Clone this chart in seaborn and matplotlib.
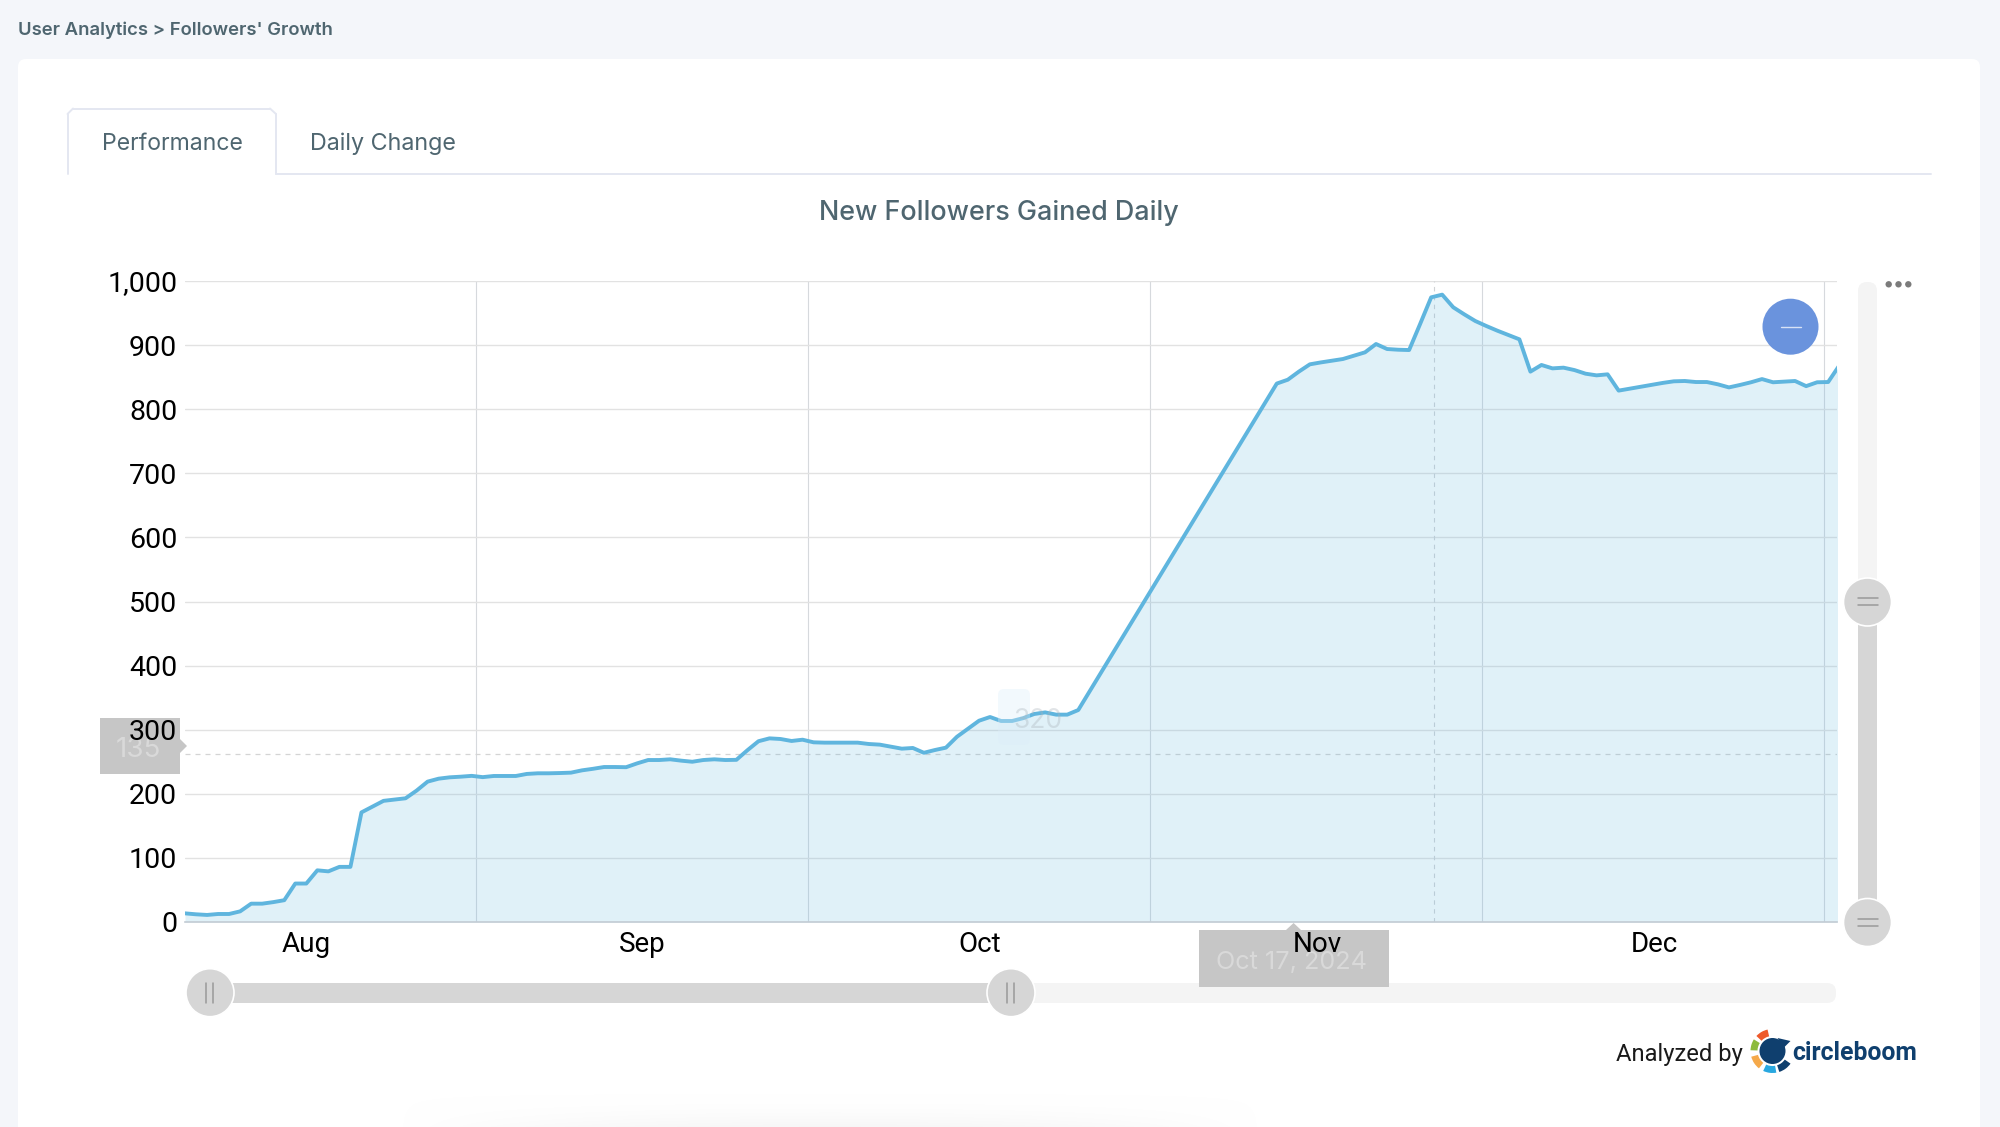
import numpy as np
import pandas as pd
import matplotlib.pyplot as plt
import seaborn as sns
from matplotlib.patches import Circle, FancyBboxPatch, Polygon, Rectangle, Wedge

# Values, one point per day (no points for days 82-98)
days_early = list(range(0, 82))
followers_early = [13.5, 12, 11, 12.5, 12.5, 16.6, 28.6, 28.6, 31, 34,
                   60, 60, 80.6, 79, 86, 86, 171, 180, 189, 191,
                   193, 205, 219, 223.6, 225.7, 226.7, 228, 226, 227.8, 227.8,
                   227.8, 231, 232, 232, 232.4, 233, 236.6, 239, 241.8, 241.8,
                   241.5, 247.5, 252.7, 252.7, 253.8, 251.7, 250, 252.7, 253.8, 252.7,
                   253, 268, 282, 286.5, 285.5, 282.4, 284.4, 280.3, 279.8, 279.8,
                   279.8, 279.8, 277.7, 276.7, 273.5, 270.4, 271.5, 264, 268.3, 272,
                   289, 301.6, 314, 319.8, 313.6, 313.6, 318, 324.5, 327, 323.5,
                   323.5, 330.7]
days_late = list(range(99, 151))
followers_late = [840, 846, 858.6, 870, 873, 875.7, 878.3, 883.5, 888.7, 901.7,
                  893.9, 892.8, 892.3, 933, 974.5, 978.7, 959, 948, 937.6, 929.8,
                  922.5, 915.7, 909, 858.6, 869, 863.7, 864.8, 861, 855.4, 852.8,
                  854.4, 829, 832, 835, 838, 841, 843.5, 844, 842.4, 842.4,
                  838.8, 834, 837.8, 842, 847, 842, 843, 844, 836, 842,
                  842.4, 868]

month_labels = ['Aug', 'Sep', 'Oct', 'Nov', 'Dec']
month_label_days = [11.0, 41.5, 72.1, 102.7, 133.2]
month_start_days = [26.35, 56.45, 87.5, 117.6, 148.65]
y_ticks = [0, 100, 200, 300, 400, 500, 600, 700, 800, 900, 1000]
cursor_value = 261.6
cursor_day = 113.3

df = pd.DataFrame({'day': days_early + days_late,
                   'followers': followers_early + followers_late})

sns.set_theme(style='white')
plt.rcParams['font.family'] = ['Inter', 'DejaVu Sans']

page_color = '#f4f6fa'
text_color = '#4f6670'
line_color = '#5fb5de'
tab_line = '#e4e7f1'
handle_color = '#d6d6d6'
tick_font = ['Roboto', 'DejaVu Sans']

fig = plt.figure(figsize=(20, 11.27), dpi=100, facecolor=page_color)

# Page elements are placed in pixel coordinates on a full size axes
bg = fig.add_axes([0, 0, 1, 1], zorder=0)
bg.set_xlim(0, 2000)
bg.set_ylim(1127, 0)
bg.axis('off')

bg.add_patch(FancyBboxPatch((18, 59), 1962, 1120, boxstyle='round,pad=0,rounding_size=8',
                            fc='white', ec='none', zorder=1))

# Soft shadow at the bottom of the card
sx, sy = np.meshgrid(np.linspace(-1, 1, 400), np.linspace(0, 1, 40))
shadow = np.zeros((40, 400, 4))
shadow[..., :3] = 0.93
shadow[..., 3] = 0.45 * sy ** 2 * np.clip(1 - sx ** 2, 0, 1)
bg.imshow(shadow, extent=(400, 1260, 1127, 1090), aspect='auto', zorder=2)
bg.set_xlim(0, 2000)
bg.set_ylim(1127, 0)

bg.text(18, 30, "User Analytics > Followers' Growth", fontsize=13.3, fontweight='semibold',
        color=text_color, va='center', zorder=5)

# Tabs
bg.plot([67.5, 67.5], [174, 114], color=tab_line, lw=1.4, zorder=3)
bg.plot([73, 270], [108.5, 108.5], color=tab_line, lw=1.4, zorder=3)
bg.plot([276, 276], [114, 174], color=tab_line, lw=1.4, zorder=3)
bg.plot([67.5, 73], [114, 108.5], color=tab_line, lw=1.4, zorder=3)
bg.plot([270, 276], [108.5, 114], color=tab_line, lw=1.4, zorder=3)
bg.plot([276, 1931], [174, 174], color=tab_line, lw=1.4, zorder=3)
bg.text(172, 144.5, 'Performance', fontsize=16.6, color=text_color, ha='center', va='center', zorder=5)
bg.text(383, 143.5, 'Daily Change', fontsize=16.8, color=text_color, ha='center', va='center', zorder=5)
bg.text(999, 213.5, 'New Followers Gained Daily', fontsize=19.4, fontweight='medium',
        color=text_color, ha='center', va='center', zorder=5)

# Horizontal slider
bg.add_patch(FancyBboxPatch((190, 983), 1646, 20, boxstyle='round,pad=0,rounding_size=9',
                            fc='#f4f4f4', ec='none', zorder=3))
bg.add_patch(Rectangle((210, 983), 801, 20, fc=handle_color, ec='none', zorder=3))

# Faded tooltips behind the axis labels
tooltip_color = '#c6c6c6'
bg.add_patch(Rectangle((100, 718), 80, 56, fc=tooltip_color, ec='none', zorder=4))
bg.add_patch(Polygon([(180, 739), (187, 746), (180, 753)], fc=tooltip_color, ec='none', zorder=4))
bg.text(138, 750, '135', fontsize=20, color='#d9d9d9', ha='center', va='center', zorder=5)
bg.add_patch(Rectangle((1199, 930), 189.5, 57, fc=tooltip_color, ec='none', zorder=4))
bg.add_patch(Polygon([(1286, 930), (1293.6, 923), (1301, 930)], fc=tooltip_color, ec='none', zorder=4))
bg.text(1291, 962.5, 'Oct 17, 2024', fontsize=18.2, color='#d9d9d9', ha='center', va='center', zorder=5)

# Chart
ax = fig.add_axes([185 / 2000, (1127 - 922) / 1127, 1652 / 2000, 641 / 1127], zorder=1)
ax.patch.set_alpha(0)
sns.lineplot(data=df, x='day', y='followers', color=line_color, lw=2.8, ax=ax, zorder=3)
ax.fill_between(df['day'], df['followers'], color=line_color, alpha=0.19, lw=0, zorder=2)
ax.set_xlim(0, 149.8)
ax.set_ylim(0, 1000)
ax.set_xlabel('')
ax.set_ylabel('')
ax.set_yticks(y_ticks, [f'{v:,}' for v in y_ticks])
ax.set_xticks(month_label_days, month_labels)
ax.set_xticks(month_start_days, minor=True)
ax.tick_params(axis='both', which='both', length=0)
ax.tick_params(axis='y', labelsize=20.5, labelcolor='black', pad=5.5)
ax.tick_params(axis='x', labelsize=20, labelcolor='black', pad=6.5)
for label in ax.get_xticklabels() + ax.get_yticklabels():
    label.set_family(tick_font)
ax.grid(axis='y', which='major', color='#e2e2e2', lw=1.0, zorder=1)
ax.grid(axis='x', which='minor', color='#d6d9dd', lw=0.8, zorder=1)
ax.grid(axis='x', which='major', visible=False)
ax.axhline(cursor_value, color='#d4d4d4', lw=0.9, ls=(0, (4, 4)), zorder=1)
ax.axvline(cursor_day, color='#d0d3d6', lw=0.8, ls=(0, (4, 4)), zorder=1)
ax.set_axisbelow(True)
sns.despine(ax=ax, left=True, top=True, right=True)
ax.spines['bottom'].set_color('#c3ccd4')
ax.spines['bottom'].set_linewidth(1.2)

# Controls drawn on top of the chart
fg = fig.add_axes([0, 0, 1, 1], zorder=2)
fg.set_xlim(0, 2000)
fg.set_ylim(1127, 0)
fg.axis('off')
fg.patch.set_alpha(0)

# Faded value bubble
fg.add_patch(FancyBboxPatch((998, 689), 32, 56, boxstyle='round,pad=0,rounding_size=6',
                            fc='#dceefa', ec='none', alpha=0.35, zorder=2))
fg.text(1038, 721.5, '320', fontsize=19, color='#aab4bb', alpha=0.35, ha='center', va='center', zorder=3)

# Blue zoom button
fg.add_patch(Circle((1790.5, 326.7), 28, fc='#6a93dd', ec='none', zorder=3))
fg.plot([1780.5, 1800.5], [326.7, 326.7], color='#d7e2f6', lw=1.0, zorder=4)

# Vertical slider
fg.add_patch(FancyBboxPatch((1858, 282), 19, 330, boxstyle='round,pad=0,rounding_size=9',
                            fc='#f4f4f4', ec='none', zorder=2))
fg.add_patch(Rectangle((1858, 602), 19, 320, fc=handle_color, ec='none', zorder=2))
for cy in [602, 922.5]:
    fg.add_patch(Circle((1867.5, cy), 24, fc=handle_color, ec='white', lw=1.2, zorder=3))
    fg.plot([1857.5, 1877.5], [cy - 4, cy - 4], color='#999999', lw=1.1, zorder=4)
    fg.plot([1857.5, 1877.5], [cy + 3, cy + 3], color='#999999', lw=1.1, zorder=4)

for cx in [210, 1011]:
    fg.add_patch(Circle((cx, 992.7), 24, fc=handle_color, ec='white', lw=1.2, zorder=3))
    fg.plot([cx - 4, cx - 4], [983, 1003], color='#999999', lw=1.1, zorder=4)
    fg.plot([cx + 3, cx + 3], [983, 1003], color='#999999', lw=1.1, zorder=4)

# Menu dots
for cx in [1888.7, 1898.5, 1908.3]:
    fg.add_patch(Circle((cx, 284.3), 3.2, fc='#7b7b7b', ec='none', zorder=3))

# Footer with logo
fg.text(1616, 1055, 'Analyzed by', fontsize=17.1, color='#1a1a1a', va='center', zorder=3,
        family=tick_font)
logo_x, logo_y = 1772.5, 1051
logo_navy = '#0f3f6e'
logo_parts = [(223, 257, '#ee5a2b'), (182, 212, '#8dbb3d'), (128, 165, '#f5a94a'),
              (80, 115, '#29a8e0'), (35, 72, logo_navy)]
for start, end, color in logo_parts:
    fg.add_patch(Wedge((logo_x, logo_y), 22, start, end, width=7, fc=color, ec='none', zorder=3))
fg.add_patch(Circle((logo_x, logo_y), 13, fc=logo_navy, ec='none', zorder=3))
fg.add_patch(Polygon([(logo_x + 5, logo_y - 13), (logo_x + 18, logo_y - 10), (logo_x + 11, logo_y - 3)],
                     fc=logo_navy, ec='none', zorder=3))
fg.text(1792, 1053, 'circleboom', fontsize=17.8, fontweight='bold', color=logo_navy, va='center', zorder=3,
        family=tick_font)

plt.savefig('out.png', dpi=100, facecolor=page_color)
